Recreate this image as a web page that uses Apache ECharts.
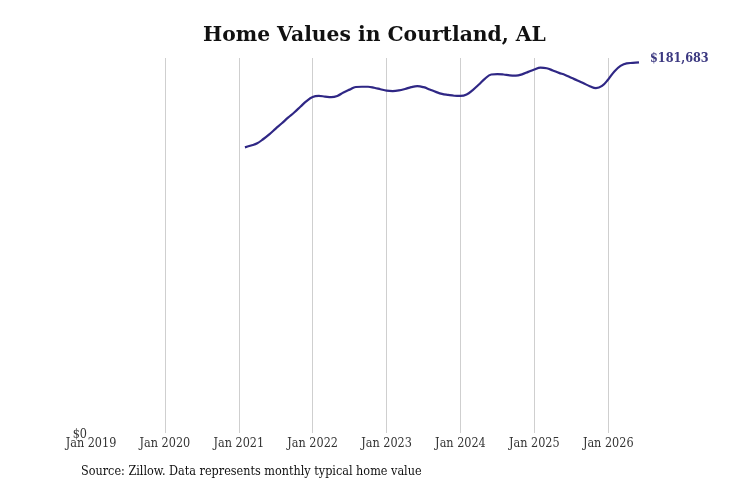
<!DOCTYPE html>
<html>
<head>
<meta charset="utf-8">
<script src="https://cdn.jsdelivr.net/npm/echarts@6/dist/echarts.min.js"></script>
<style>
  html, body { margin: 0; padding: 0; background: #fff; }
  #chart { width: 731px; height: 487px; }
</style>
</head>
<body>
<div id="chart"></div>
<script>
// months shown on the axis: Jan 2019 .. Jun 2026
const monthNames = ['Jan', 'Feb', 'Mar', 'Apr', 'May', 'Jun', 'Jul', 'Aug', 'Sep', 'Oct', 'Nov', 'Dec'];
const firstYear = 2019;
const monthCount = 90;

// series starts Feb 2021 (month index 25)
const dataStartIndex = 25;
const homeValues = [
    140000, 140900, 142000, 144100, 146500, 149200, 151800, 154600, 157100, 159900, 162700,
    164700, 165200, 164900, 164600, 165200, 166900, 168300, 169600, 169700, 169700, 169200, 168500,
    167800, 167600, 167900, 168600, 169500, 170000, 169500, 168400, 167200, 166200, 165700, 165300,
    165200, 165900, 168100, 170800, 173700, 175700, 175900, 175700, 175300, 175200, 175800, 177000,
    178200, 179100, 178800, 177700, 176500, 175500, 174100, 172800, 171400, 170000, 169000, 170100,
    173300, 177200, 179900, 181200, 181400, 181683,
];

const categories = [];
for (let i = 0; i < monthCount; i++) {
    categories.push(`${monthNames[i % 12]} ${firstYear + Math.floor(i / 12)}`);
}
const seriesData = categories.map((c, i) => {
    const v = homeValues[i - dataStartIndex];
    return v === undefined ? null : v;
});

const fmtMoney = (v) => '$' + Math.round(v).toLocaleString('en-US');
const serif = 'DejaVu Serif';
const serifNarrow = '"DejaVu Serif Condensed", "DejaVu Serif", serif';
const isYearStart = (idx) => idx % 12 === 0;

const chart = echarts.init(document.getElementById('chart'));
chart.setOption({
    animation: false,
    title: {
        text: 'Home Values in Courtland, AL',
        left: 198,
        top: 21,
        textStyle: { fontFamily: serif, fontWeight: 'bold', fontSize: 20.3, color: '#111' },
    },
    grid: { left: 91, right: 92, top: 58, bottom: 54 },
    xAxis: {
        type: 'category',
        data: categories,
        boundaryGap: false,
        axisLine: { show: false },
        axisTick: { show: false },
        axisLabel: {
            interval: isYearStart,
            fontFamily: serifNarrow,
            fontSize: 12.5,
            color: '#333',
            margin: 4,
        },
        splitLine: {
            show: true,
            interval: isYearStart,
            showMinLine: false,
            lineStyle: { color: '#cfcfcf', width: 1 },
        },
    },
    yAxis: {
        type: 'value',
        min: 0,
        max: 183800,
        interval: 183800,
        axisLine: { show: false },
        axisTick: { show: false },
        splitLine: { show: false },
        axisLabel: {
            formatter: (v) => (v === 0 ? fmtMoney(v) : ''),
            fontFamily: serifNarrow,
            fontSize: 12.5,
            color: '#333',
            margin: 4,
            verticalAlign: 'top',
            padding: [-5, 0, 0, 0],
        },
    },
    graphic: [
        {
            type: 'text',
            left: 81,
            top: 465,
            style: {
                text: 'Source: Zillow. Data represents monthly typical home value',
                fontFamily: serifNarrow,
                fontSize: 12.5,
                fill: '#111',
            },
        },
    ],
    series: [
        {
            type: 'line',
            data: seriesData,
            smooth: 0.4,
            showSymbol: false,
            connectNulls: false,
            lineStyle: { color: '#2f2785', width: 2.2 },
            itemStyle: { color: '#2f2785' },
            endLabel: {
                show: true,
                formatter: (p) => fmtMoney(p.value),
                fontFamily: serifNarrow,
                fontWeight: 'bold',
                fontSize: 12.5,
                color: '#3b3880',
                distance: 11,
                offset: [0, -4],
            },
        },
    ],
});
</script>
</body>
</html>
